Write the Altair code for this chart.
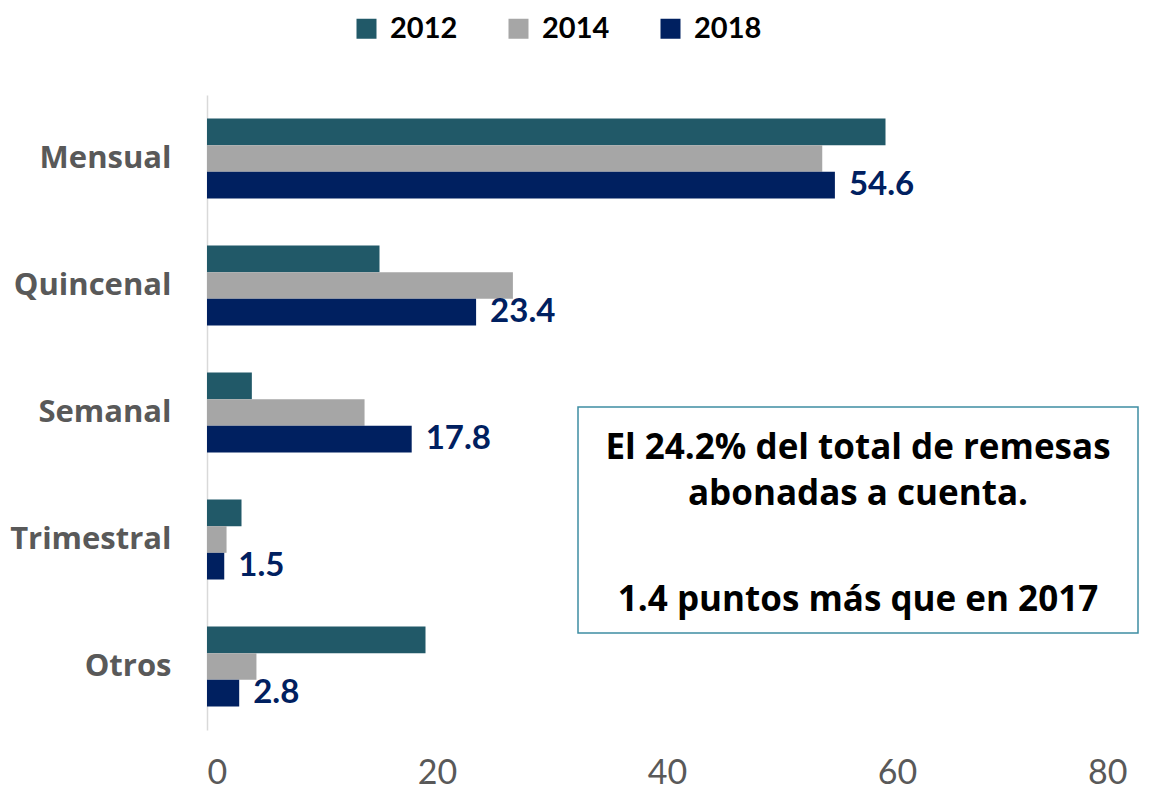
import altair as alt
import pandas as pd

categories = ["Mensual", "Quincenal", "Semanal", "Trimestral", "Otros"]
years = ["2012", "2014", "2018"]
v2012 = [59.0, 15.0, 3.9, 3.0, 19.0]
v2014 = [53.5, 26.6, 13.7, 1.7, 4.3]
v2018 = [54.6, 23.4, 17.8, 1.5, 2.8]
colors = ["#215968", "#A6A6A6", "#002060"]
x_ticks = [0, 20, 40, 60, 80]
note_lines = ["El 24.2% del total de remesas", "abonadas a cuenta."]
note_last = "1.4 puntos más que en 2017"

rows = []
for yr, vals in zip(years, [v2012, v2014, v2018]):
    for c, v in zip(categories, vals):
        rows.append({"cat": c, "year": yr, "value": v})
df = pd.DataFrame(rows)

FONT = "Lato"
W, H = 920, 635

y_enc = alt.Y("cat:N", sort=categories,
              scale=alt.Scale(paddingInner=0.37, paddingOuter=0.185),
              axis=alt.Axis(title=None, ticks=False, domain=True, domainColor="#D9D9D9",
                            domainWidth=1.5, labelFont="Open Sans", labelFontWeight="bold",
                            labelFontSize=31, labelColor="#595959", labelPadding=36,
                            grid=False))
x_enc = alt.X("value:Q", scale=alt.Scale(domain=[0, 80], nice=False),
              axis=alt.Axis(title=None, values=x_ticks, ticks=False, domain=False, grid=False,
                            labelFont=FONT, labelFontSize=34, labelColor="#595959",
                            labelPadding=26))
yo_enc = alt.YOffset("year:N", sort=years, scale=alt.Scale(paddingInner=0, paddingOuter=0))

bars = alt.Chart(df).mark_bar().encode(
    x=x_enc, y=y_enc, yOffset=yo_enc,
    color=alt.Color("year:N", sort=years, scale=alt.Scale(domain=years, range=colors),
                    legend=alt.Legend(title=None, orient="none", direction="horizontal",
                                      legendX=145, legendY=-81, symbolType="square",
                                      symbolSize=400, symbolStrokeWidth=0,
                                      labelFont=FONT, labelFontWeight="bold",
                                      labelFontSize=29, labelColor="#000000",
                                      labelOffset=9, columnPadding=46)),
)

labels = alt.Chart(df).transform_filter(alt.datum.year == "2018").mark_text(
    align="left", baseline="middle", dx=14, font=FONT, fontWeight="bold",
    fontSize=33, color="#002060"
).encode(x=x_enc, y=y_enc, yOffset=yo_enc, text=alt.Text("value:Q", format=".1f"))

one = alt.Data(values=[{"k": 1}])
box = alt.Chart(one).mark_rect(fill="white", stroke="#3E8DA3", strokeWidth=1.5).encode(
    x=alt.value(371), x2=alt.value(931), y=alt.value(312), y2=alt.value(538))
note1 = alt.Chart(one).mark_text(
    align="center", baseline="middle", font="Open Sans", fontWeight="bold", fontSize=35,
    color="#000000", lineHeight=46
).encode(x=alt.value(651), y=alt.value(353), text=alt.value(note_lines))
note2 = alt.Chart(one).mark_text(
    align="center", baseline="middle", font="Open Sans", fontWeight="bold", fontSize=35,
    color="#000000"
).encode(x=alt.value(651), y=alt.value(505), text=alt.value(note_last))

chart = alt.layer(bars, labels, box, note1, note2).properties(
    width=W, height=H,
    autosize=alt.AutoSizeParams(type="none"),
    padding={"left": 199, "top": 87, "right": 15, "bottom": 64},
    background="white",
).configure_view(strokeWidth=0, stroke="transparent")

chart.save("out.html", embed_options={"renderer": "svg", "actions": False})
